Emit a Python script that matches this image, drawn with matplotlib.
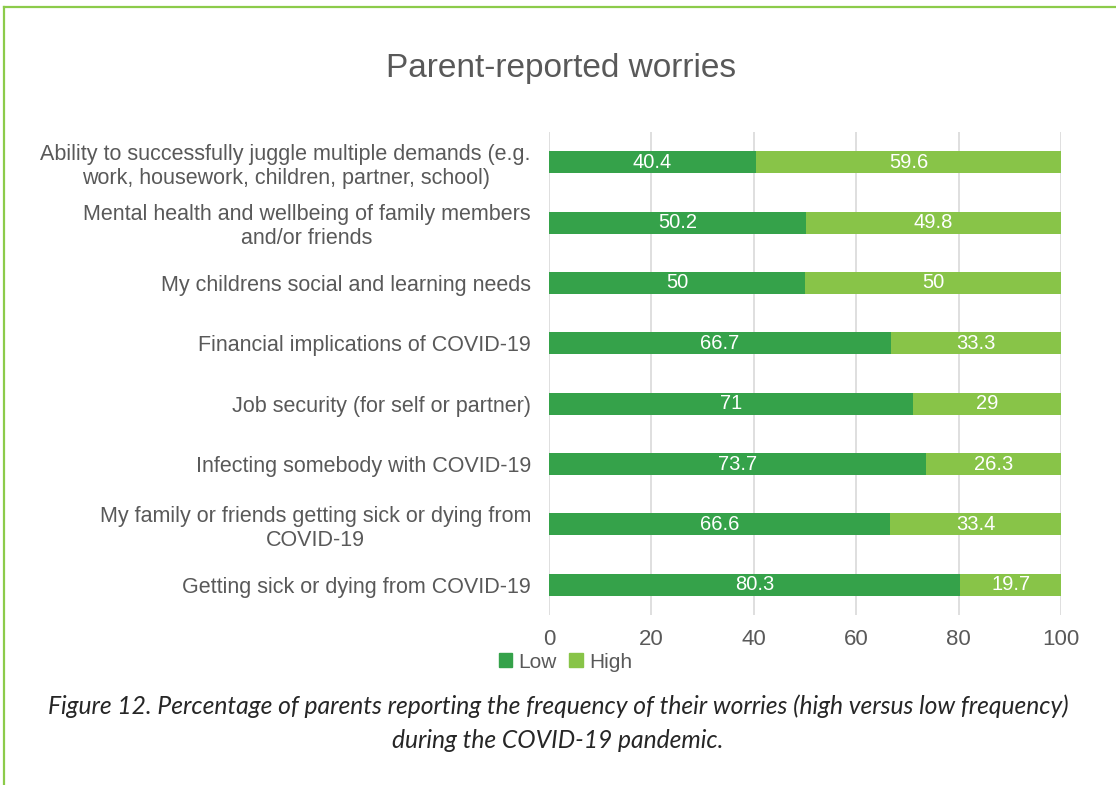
"""Stacked horizontal bars of parent-reported worry frequency."""

import matplotlib.pyplot as plt
from matplotlib.lines import Line2D
from matplotlib.patches import Patch

categories = [
    "Ability to successfully juggle multiple demands (e.g.\nwork, housework, children, partner, school)",
    "Mental health and wellbeing of family members\nand/or friends",
    "My childrens social and learning needs",
    "Financial implications of COVID-19",
    "Job security (for self or partner)",
    "Infecting somebody with COVID-19",
    "My family or friends getting sick or dying from\nCOVID-19",
    "Getting sick or dying from COVID-19",
]
low = [40.4, 50.2, 50, 66.7, 71, 73.7, 66.6, 80.3]
high = [59.6, 49.8, 50, 33.3, 29, 26.3, 33.4, 19.7]
x_ticks = [0, 20, 40, 60, 80, 100]

LOW_COLOR = "#35A24A"
HIGH_COLOR = "#88C448"
TEXT_COLOR = "#595959"
FONT = ["Liberation Sans", "DejaVu Sans"]

plt.rcParams["font.family"] = FONT

fig = plt.figure(figsize=(11.16, 7.85), dpi=100)
ax = fig.add_axes([549 / 1116, 1 - 615 / 785, 512 / 1116, 483 / 785])

ypos = list(range(len(categories)))
ax.barh(ypos, low, height=0.365, color=LOW_COLOR, zorder=3)
ax.barh(ypos, high, left=low, height=0.365, color=HIGH_COLOR, zorder=3)

for y, lo, hi in zip(ypos, low, high):
    ax.text(lo / 2, y, f"{lo:g}", ha="center", va="center",
            color="white", fontsize=14.5, zorder=4)
    ax.text(lo + hi / 2, y, f"{hi:g}", ha="center", va="center",
            color="white", fontsize=14.5, zorder=4)

ax.set_xlim(0, 100)
ax.set_ylim(len(categories) - 0.5, -0.5)
ax.set_xticks(x_ticks)
ax.set_yticks(ypos)
ax.set_yticklabels(categories, multialignment="center")
ax.tick_params(axis="both", length=0, labelcolor=TEXT_COLOR)
ax.tick_params(axis="x", pad=10, labelsize=16)
ax.tick_params(axis="y", pad=13, labelsize=15.5)
ax.grid(axis="x", color="#D9D9D9", linewidth=1.2, zorder=0)
for spine in ax.spines.values():
    spine.set_visible(False)

fig.text(561 / 1116, 1 - 68 / 785, "Parent-reported worries", ha="center",
         va="center", fontsize=24, color=TEXT_COLOR)

handles = [Patch(color=LOW_COLOR, label="Low"), Patch(color=HIGH_COLOR, label="High")]
fig.legend(handles=handles, loc="center left", bbox_to_anchor=(480 / 1116, 1 - 662 / 785),
           ncol=2, frameon=False, fontsize=15, labelcolor=TEXT_COLOR,
           handlelength=0.65, handleheight=0.65, handletextpad=0.3, columnspacing=0.6)

caption_font = ["Lato", "DejaVu Sans"]
fig.text(558 / 1116, 1 - 706 / 785,
         "Figure 12. Percentage of parents reporting the frequency of their worries (high versus low frequency)",
         ha="center", va="center", fontsize=17.7, style="italic", color="#262626",
         family=caption_font)
fig.text(558 / 1116, 1 - 741 / 785, "during the COVID-19 pandemic.",
         ha="center", va="center", fontsize=17.7, style="italic", color="#262626",
         family=caption_font)

# green frame along the top and left edges
fig.add_artist(Line2D([4 / 1116, 1], [1 - 6.5 / 785, 1 - 6.5 / 785],
                      transform=fig.transFigure, color="#8CCB4A", linewidth=1.6))
fig.add_artist(Line2D([4 / 1116, 4 / 1116], [0, 1 - 6.5 / 785],
                      transform=fig.transFigure, color="#8CCB4A", linewidth=1.6))

fig.savefig("out.png", dpi=100)
